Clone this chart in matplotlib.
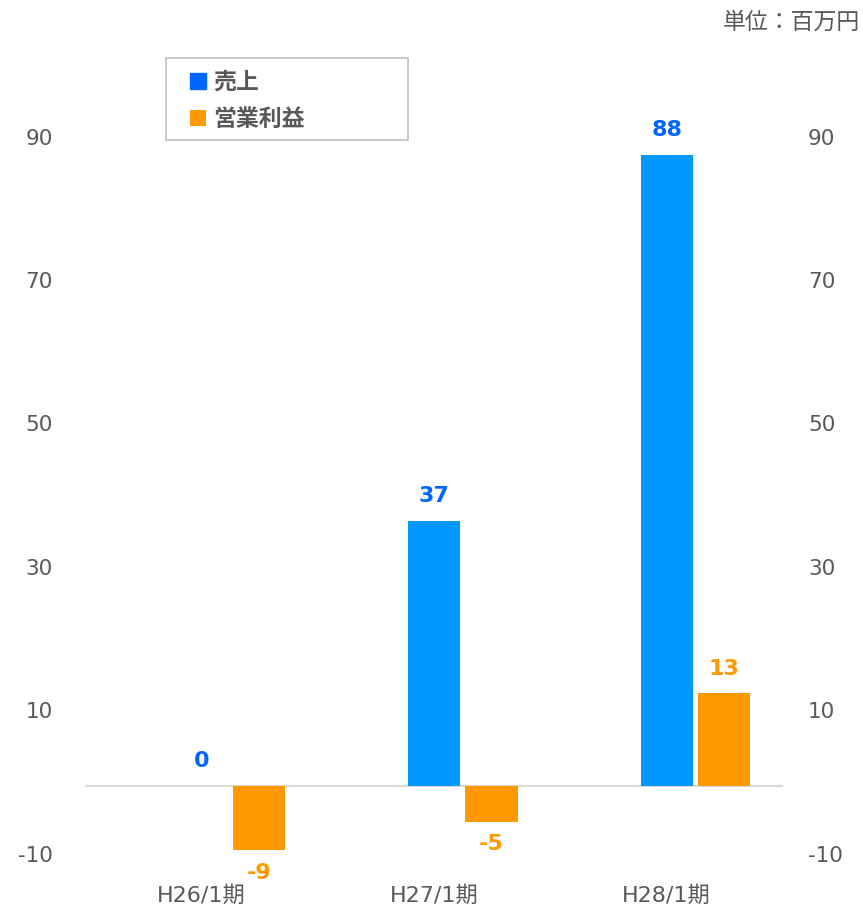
import numpy as np
import matplotlib.pyplot as plt
import matplotlib.transforms as mtransforms
from matplotlib.patches import Rectangle

plt.rcParams['font.family'] = ['DejaVu Sans', 'Noto Sans CJK JP']
plt.rcParams['axes.unicode_minus'] = False

categories = ['H26/1期', 'H27/1期', 'H28/1期']
sales = [0, 37, 88]
op_profit = [-9, -5, 13]
yticks = [-10, 10, 30, 50, 70, 90]

gray = '#595959'
blue_bar = '#0099ff'
blue_txt = '#0066ff'
orange = '#ff9900'

fig = plt.figure(figsize=(8.63, 9.05), dpi=100)
ax = fig.add_axes([0.0985, 0.0523, 0.8088, 0.8715])

x = np.arange(len(categories))
w = 0.224
off = 0.247

ax.bar(x, sales, w, color=blue_bar, label='売上')
ax.bar(x + off, op_profit, w, color=orange, label='営業利益')
ax.axhline(0, color='#d9d9d9', lw=1.5, zorder=0)

for xi, v in zip(x, sales):
    ax.annotate(str(v), (xi, v), xytext=(0, 18), textcoords='offset points',
                ha='center', va='center', fontsize=16, fontweight='bold', color=blue_txt)
for xi, v in zip(x + off, op_profit):
    dy = -16 if v < 0 else 17
    ax.annotate(str(v), (xi, v), xytext=(0, dy), textcoords='offset points',
                ha='center', va='center', fontsize=16, fontweight='bold', color=orange)

ax.set_xlim(-0.5, 2.5)
ax.set_ylim(-10, 100)
ax.set_yticks(yticks)
ax.set_xticks(x)
ax.set_xticklabels(categories)
ax.tick_params(axis='y', length=0, labelsize=15.5, labelcolor=gray, pad=23,
               labelright=True)
ax.tick_params(axis='x', length=0, labelsize=16, labelcolor=gray, pad=20)
for s in ax.spines.values():
    s.set_visible(False)

# nudge y tick labels a little
shift_l = mtransforms.ScaledTranslation(0, 4 / 100, fig.dpi_scale_trans)
shift_r = mtransforms.ScaledTranslation(-7 / 100, 4 / 100, fig.dpi_scale_trans)
for t in ax.yaxis.get_major_ticks():
    t.label1.set_transform(t.label1.get_transform() + shift_l)
    t.label2.set_transform(t.label2.get_transform() + shift_r)

# legend box
ax.add_patch(Rectangle((166 / 863, 1 - 140 / 905), 242 / 863, 82 / 905,
                       transform=fig.transFigure, facecolor='white',
                       edgecolor='#c0c0c0', lw=1.2, zorder=5, clip_on=False))
leg = ax.legend(loc='upper left', bbox_to_anchor=(183 / 863, 1 - 64 / 905),
                bbox_transform=fig.transFigure, borderaxespad=0, frameon=False,
                handlelength=0.7, handleheight=0.7, handletextpad=0.32,
                labelspacing=0.6, borderpad=0.3,
                prop={'size': 16.5, 'weight': 'bold'})
leg.set_zorder(6)
leg.legend_handles[0].set_color(blue_txt)
for t in leg.get_texts():
    t.set_color(gray)

fig.text(0.997, 1 - 22 / 905, '単位：百万円', ha='right', va='center',
         fontsize=16.5, color=gray)

fig.savefig('out.png', dpi=100)
